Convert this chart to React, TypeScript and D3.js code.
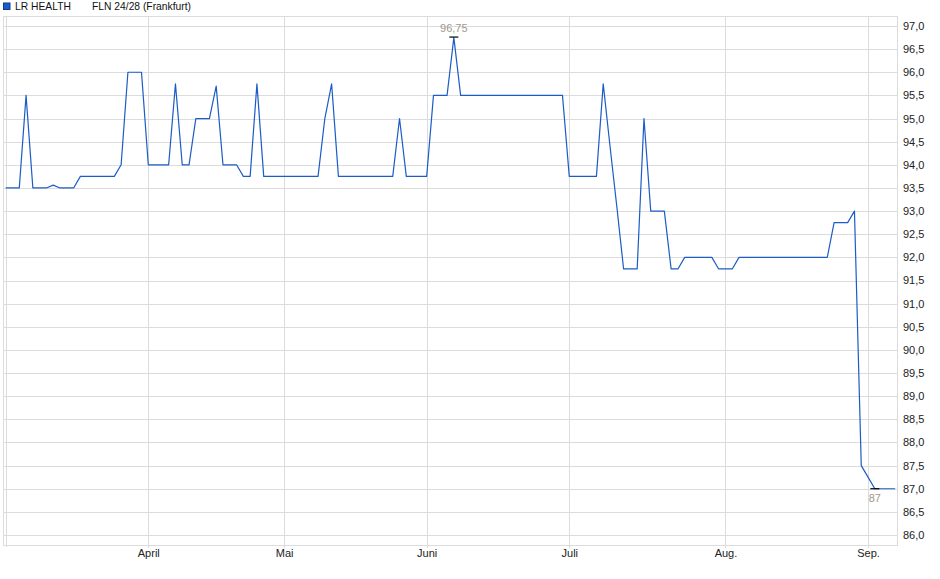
import React from "react";
import * as d3 from "d3";

// Trading days shown on the chart (Frankfurt, 2025-03-03 .. 2025-09-05)
const startDate = "2025-03-03";
const endDate = "2025-09-05";
const holidays = ["2025-04-18", "2025-04-21", "2025-05-01"];

// Closing prices, one per trading day
const prices: number[] = [
  93.5, 93.5, 93.5, 95.5, 93.5, 93.5, 93.5, 93.56, 93.5, 93.5, 93.5,
  93.75, 93.75, 93.75, 93.75, 93.75, 93.75, 94.0, 96.0, 96.0, 96.0,
  94.0, 94.0, 94.0, 94.0, 95.75, 94.0, 94.0, 95.0, 95.0, 95.0, 95.7,
  94.0, 94.0, 94.0, 93.75, 93.75, 95.75,
  93.75, 93.75, 93.75, 93.75, 93.75, 93.75, 93.75, 93.75, 93.75,
  95.0, 95.75,
  93.75, 93.75, 93.75, 93.75, 93.75, 93.75, 93.75, 93.75, 93.75,
  95.0, 93.75, 93.75, 93.75, 93.75,
  95.5, 95.5, 95.5, 96.75,
  95.5, 95.5, 95.5, 95.5, 95.5, 95.5, 95.5, 95.5, 95.5, 95.5, 95.5, 95.5, 95.5, 95.5, 95.5, 95.5,
  93.75, 93.75, 93.75, 93.75, 93.75, 95.75, 94.4, 93.1,
  91.75, 91.75, 91.75, 95.0, 93.0, 93.0, 93.0, 91.75, 91.75,
  92.0, 92.0, 92.0, 92.0, 92.0, 91.75, 91.75, 91.75,
  92.0, 92.0, 92.0, 92.0, 92.0, 92.0, 92.0, 92.0, 92.0, 92.0, 92.0, 92.0, 92.0, 92.0,
  92.75, 92.75, 92.75, 93.0, 87.5, 87.25, 87.0, 87.0, 87.0, 87.0,
];

const monthLabels = ["April", "Mai", "Juni", "Juli", "Aug.", "Sep."];
const yTicks = [86, 86.5, 87, 87.5, 88, 88.5, 89, 89.5, 90, 90.5, 91, 91.5, 92, 92.5, 93, 93.5, 94, 94.5, 95, 95.5, 96, 96.5, 97];
const legendName = "LR HEALTH";
const legendInfo = "FLN 24/28 (Frankfurt)";

const fmt = d3.timeFormat("%Y-%m-%d");
const parse = d3.timeParse("%Y-%m-%d");
const days: Date[] = d3.timeDay
  .range(parse(startDate)!, d3.timeDay.offset(parse(endDate)!, 1))
  .filter((d) => d.getDay() !== 0 && d.getDay() !== 6 && !holidays.includes(fmt(d)));

export default function App() {
  const W = 940;
  const H = 579;
  const left = 3.5;
  const right = 897.5;
  const top = 16;
  const bottom = 545;

  const x = d3.scaleLinear().domain([0, days.length - 1]).range([5.7, 895.2]);
  const y = d3.scaleLinear().domain([86, 97]).range([535, 26]);

  const line = d3
    .line<number>()
    .x((_, i) => x(i))
    .y((v) => y(v));

  // first trading day of each month (after the first)
  const monthIdx: number[] = [];
  days.forEach((d, i) => {
    if (i > 0 && d.getMonth() !== days[i - 1].getMonth()) monthIdx.push(i);
  });

  const maxV = d3.max(prices)!;
  const minV = d3.min(prices)!;
  const maxI = prices.indexOf(maxV);
  const minI = prices.indexOf(minV);
  const deFmt = (v: number) => String(v).replace(".", ",");
  const font = "'Liberation Sans', Arial, sans-serif";
  const grid = "#dcdcdc";
  const blue = "#1c5cc6";

  return (
    <div style={{ position: "absolute", left: 0, top: 0 }}>
      <svg width={W} height={H} style={{ display: "block", fontFamily: font }}>
        <rect width={W} height={H} fill="#fff" />
        {/* horizontal grid */}
        {yTicks.map((t) => (
          <line key={"h" + t} x1={left} x2={right} y1={Math.round(y(t)) + 0.5} y2={Math.round(y(t)) + 0.5} stroke={grid} strokeWidth={1} />
        ))}
        {/* vertical grid at month starts */}
        {monthIdx.map((i) => (
          <line key={"v" + i} x1={Math.round(x(i)) + 0.5} x2={Math.round(x(i)) + 0.5} y1={top} y2={bottom + 3} stroke={grid} strokeWidth={1} />
        ))}
        <line x1={Math.round(x(0)) + 0.5} x2={Math.round(x(0)) + 0.5} y1={top} y2={bottom + 2} stroke={grid} />
        {/* frame */}
        <rect x={left} y={top + 0.5} width={right - left} height={bottom - top} fill="none" stroke={grid} strokeWidth={1} />
        {/* y labels */}
        {yTicks.map((t) => (
          <text key={"yl" + t} x={903} y={y(t)} dy="0.36em" fontSize={11} fill="#222">
            {d3.format(".1f")(t).replace(".", ",")}
          </text>
        ))}
        {/* x labels */}
        {monthIdx.map((i, k) => (
          <text key={"xl" + i} x={x(i) + 0.5} y={557} textAnchor="middle" fontSize={11} fill="#222">
            {monthLabels[k]}
          </text>
        ))}
        {/* price line */}
        <path d={line(prices) ?? ""} fill="none" stroke={blue} strokeWidth={1.2} strokeLinejoin="round" />
        {/* max marker */}
        <line x1={x(maxI) - 4.5} x2={x(maxI) + 4.5} y1={y(maxV) - 0.5} y2={y(maxV) - 0.5} stroke="#000" strokeWidth={1.2} />
        <text x={x(maxI)} y={y(maxV) - 6} textAnchor="middle" fontSize={11} fill="#a09890">
          {deFmt(maxV)}
        </text>
        {/* min marker */}
        <line x1={x(minI) - 4.5} x2={x(minI) + 4.5} y1={y(minV)} y2={y(minV)} stroke="#000" strokeWidth={1.2} />
        <text x={x(minI)} y={y(minV) + 13} textAnchor="middle" fontSize={11} fill="#a09890">
          {deFmt(minV)}
        </text>
        {/* legend */}
        <rect x={3.5} y={3} width={6.5} height={6.5} fill={blue} stroke="#0d3d8c" strokeWidth={1} />
        <text x={15} y={10} fontSize={10.3} fill="#111">{legendName}</text>
        <text x={92} y={10} fontSize={10.3} fill="#111">{legendInfo}</text>
      </svg>
    </div>
  );
}
